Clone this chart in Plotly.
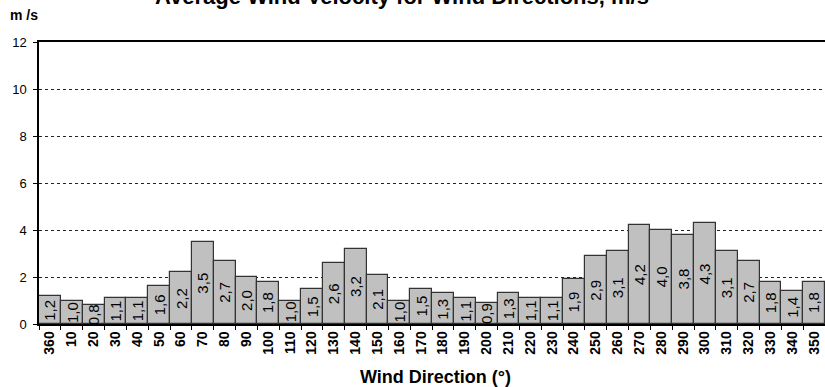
import plotly.graph_objects as go

# Wind direction sectors (degrees) and mean wind speed per sector (m/s)
directions = ["360", "10", "20", "30", "40", "50", "60", "70", "80", "90",
              "100", "110", "120", "130", "140", "150", "160", "170", "180", "190",
              "200", "210", "220", "230", "240", "250", "260", "270", "280", "290",
              "300", "310", "320", "330", "340", "350"]
speeds = [1.2, 1.0, 0.8, 1.1, 1.1, 1.6, 2.2, 3.5, 2.7, 2.0,
          1.8, 1.0, 1.5, 2.6, 3.2, 2.1, 1.0, 1.5, 1.3, 1.1,
          0.9, 1.3, 1.1, 1.1, 1.9, 2.9, 3.1, 4.2, 4.0, 3.8,
          4.3, 3.1, 2.7, 1.8, 1.4, 1.8]
y_ticks = [0, 2, 4, 6, 8, 10, 12]

FONT = "Liberation Sans, Arial, sans-serif"

W, H = 825, 387
ML, MR, MT, MB = 38.5, 0, 42, 63

fig = go.Figure()
fig.add_trace(go.Bar(
    x=directions, y=speeds,
    marker=dict(color="#c0c0c0", line=dict(color="#333333", width=1.2)),
    width=1.0,
    hoverinfo="x+y",
))

# value labels, rotated, centred in each bar (category index as x position)
for i, v in enumerate(speeds):
    fig.add_annotation(
        x=i, y=v / 2, xref="x", yref="y",
        text=f"{v:.1f}".replace(".", ","),
        textangle=-90, showarrow=False,
        font=dict(family=FONT, size=15, color="#000000"),
    )

plot_w = W - ML - MR
plot_h = H - MT - MB


def px_x(px):
    return (px - ML) / plot_w


def px_y(px):
    return (H - MB - px) / plot_h


fig.add_annotation(
    x=px_x(402), y=px_y(-3.5), xref="paper", yref="paper",
    text="<b>Average Wind Velocity for Wind Directions, m/s</b>",
    showarrow=False, xanchor="center", yanchor="middle",
    font=dict(family=FONT, size=22, color="#000000"),
)
fig.add_annotation(
    x=px_x(23), y=px_y(15), xref="paper", yref="paper",
    text="<b>m /s</b>", showarrow=False, xanchor="center", yanchor="middle",
    font=dict(family=FONT, size=14, color="#000000"),
)
fig.add_annotation(
    x=px_x(435), y=px_y(377), xref="paper", yref="paper",
    text="<b>Wind Direction (°)</b>", showarrow=False,
    xanchor="center", yanchor="middle",
    font=dict(family=FONT, size=18, color="#000000"),
)

fig.update_layout(
    width=W, height=H,
    margin=dict(l=ML, r=MR, t=MT, b=MB, pad=0),
    paper_bgcolor="white", plot_bgcolor="white",
    bargap=0, showlegend=False,
    font=dict(family=FONT, color="#000000"),
)
fig.update_xaxes(
    type="category", range=[-0.5, len(directions) - 0.5],
    showline=True, linecolor="#000000", linewidth=1.5, mirror=True,
    ticks="outside", ticklen=4, tickcolor="#000000", tickson="boundaries",
    tickangle=-90, tickfont=dict(family=FONT, size=14, color="#000000", weight="bold"),
    showgrid=False, zeroline=False,
)
fig.update_yaxes(
    range=[0, 12], tickvals=y_ticks,
    showline=True, linecolor="#000000", linewidth=1.5,
    ticks="outside", ticklen=4, tickcolor="#000000",
    ticklabelstandoff=4,
    tickfont=dict(family=FONT, size=13, color="#000000"),
    showgrid=True, gridcolor="#222222", gridwidth=1, griddash="3px,3px",
    zeroline=False,
)

fig.write_html("out.html")
